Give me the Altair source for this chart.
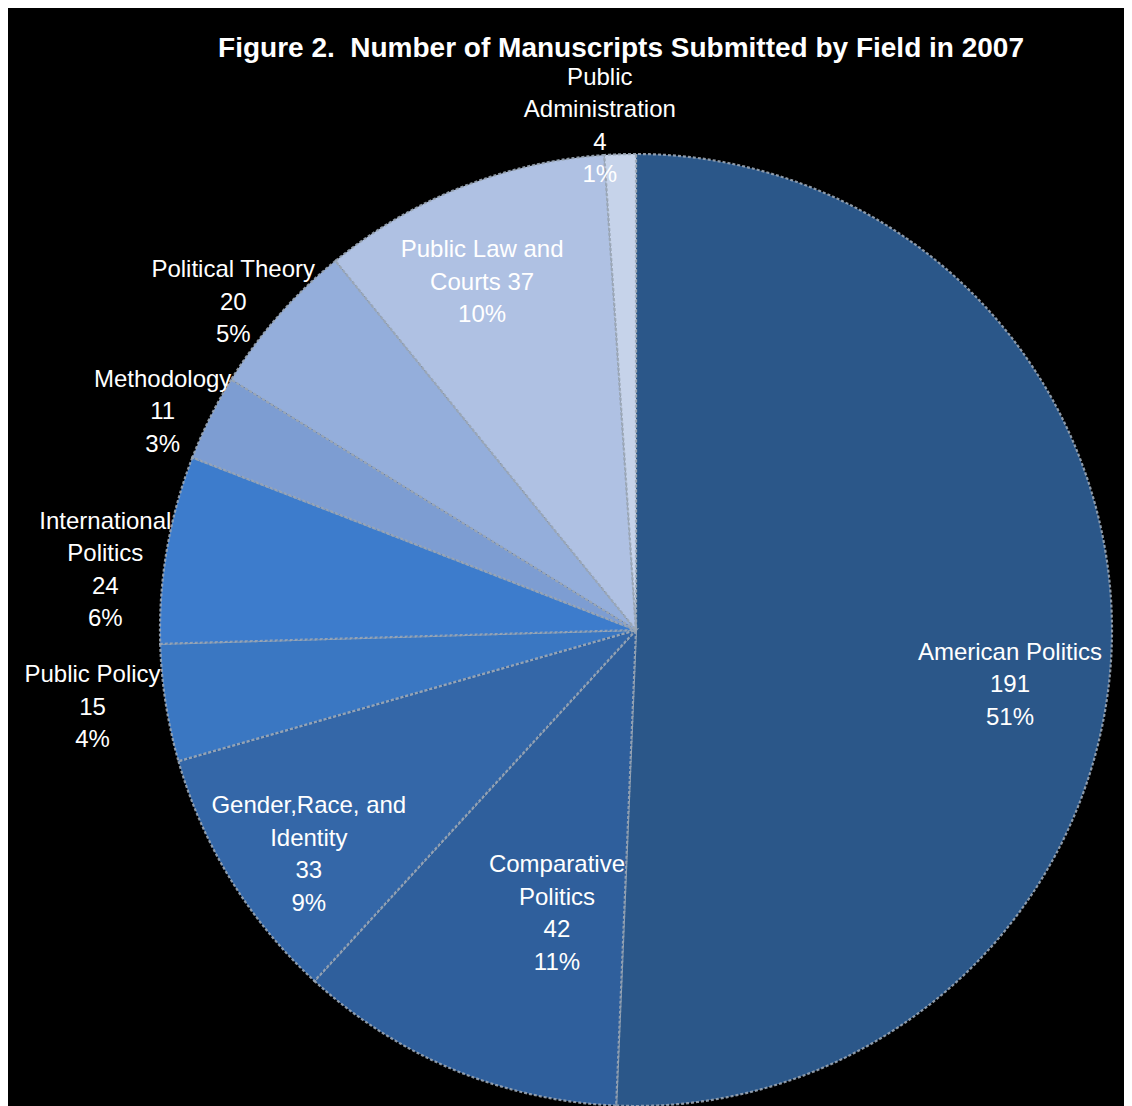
import altair as alt
import pandas as pd

# ---- data ----
fields = [
    "American Politics", "Comparative Politics", "Gender, Race, and Identity",
    "Public Policy", "International Politics", "Methodology",
    "Political Theory", "Public Law and Courts", "Public Administration",
]
counts = [191, 42, 33, 15, 24, 11, 20, 37, 4]
percents = ["51%", "11%", "9%", "4%", "6%", "3%", "5%", "10%", "1%"]
label_names = [
    "American Politics", "Comparative\nPolitics", "Gender,Race, and\nIdentity",
    "Public Policy", "International\nPolitics", "Methodology",
    "Political Theory", "Public Law and\nCourts", "Public\nAdministration",
]
colors = ["#2b5789", "#2f5f9c", "#3467a8", "#3a77c2", "#3d7ccc",
          "#7d9dd2", "#94aedb", "#afc1e3", "#c6d3ea"]

# ---- layout (label placement relative to slice mid-angle) ----
label_angle_shift = [7.2, -6.9, -2.75, 0.7, -3.4, -1.8, -2.2, -2.4, -2.2]
label_radius = [378, 295, 397, 549, 534, 521, 519, 380, 505]
CX, CY, R = 628, 622, 476
LH = 32.5

texts = []
for name, c, p in zip(label_names, counts, percents):
    if name.endswith("Courts"):
        texts.append(f"{name} {c}\n{p}")
    else:
        texts.append(f"{name}\n{c}\n{p}")

df = pd.DataFrame({
    "field": fields,
    "count": counts,
    "order": list(range(len(fields))),
    "label": texts,
    "shift": label_angle_shift,
    "lr": label_radius,
})

base = alt.Chart(df)

arcs = base.mark_arc(
    outerRadius=R, stroke="#9aa6b5", strokeWidth=2.2, strokeDash=[3, 2], strokeOpacity=0.9
).encode(
    theta=alt.Theta("count:Q", stack=True),
    order=alt.Order("order:Q"),
    color=alt.Color("field:N", scale=alt.Scale(domain=fields, range=colors), legend=None),
    x=alt.value(CX),
    y=alt.value(CY),
)

labels = base.transform_window(
    cum="sum(count)", sort=[alt.SortField("order")], frame=[None, 0]
).transform_joinaggregate(
    total="sum(count)"
).transform_calculate(
    ang="((datum.cum - datum.count/2) / datum.total * 360 + datum.shift) * PI / 180",
    nl="length(split(datum.label, '\\n'))",
).transform_calculate(
    px=f"{CX} + datum.lr * sin(datum.ang)",
    py=f"{CY} - datum.lr * cos(datum.ang) - (datum.nl - 1) * {LH} / 2",
).mark_text(
    font="Liberation Sans", fontSize=24, color="white", lineBreak="\n",
    lineHeight=LH, align="center", baseline="middle",
).encode(
    x=alt.X("px:Q", scale=None),
    y=alt.Y("py:Q", scale=None),
    text="label:N",
)

title = alt.Chart(pd.DataFrame({"t": ["Figure 2.\u00a0 Number of Manuscripts Submitted by Field in 2007"]})).mark_text(
    font="Liberation Sans", fontSize=28, fontWeight="bold", color="white",
    align="center", baseline="middle",
).encode(
    x=alt.value(613), y=alt.value(41), text="t:N"
)

chart = alt.layer(arcs, labels, title).properties(
    width=1116, height=1098, background="black", padding=0, autosize="none"
).configure_view(stroke=None)

chart.save("out.html", embed_options={"renderer": "svg", "actions": False})
